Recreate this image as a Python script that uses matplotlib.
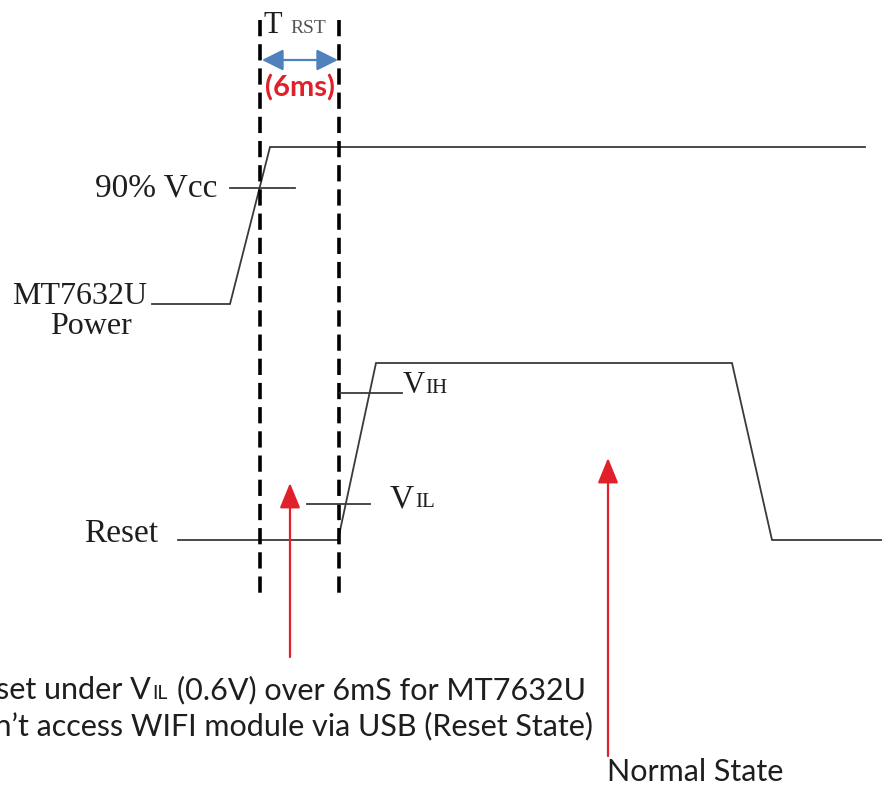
import matplotlib
matplotlib.use("Agg")
import matplotlib.pyplot as plt

# waveform vertices (horizontal position, level) in picture units
power_t = [152, 230, 270, 865]
power_v = [304, 304, 147, 147]
reset_t = [178, 338, 376, 732, 772, 882]
reset_v = [540, 540, 363, 363, 540, 540]

# T_RST window edges
trst_edges = [260, 339]
trst_span = (20, 595)

# threshold tick marks: (t_start, t_end, level)
ticks = {
    "vcc90": (230, 295, 188),
    "vih": (340, 402, 393),
    "vil": (307, 370, 504),
}

# red pointer arrows: (t, tail, tip)
pointers = [(290, 657, 483), (608, 756, 458)]

SERIF = "Liberation Serif"
SANS = "Lato"
INK = "#1e1e1e"
LINE = "#3a3a3a"
RED = "#e0202a"
BLUE = "#4f81bd"

fig = plt.figure(figsize=(8.82, 7.85), dpi=100)
ax = fig.add_axes([0, 0, 1, 1])
ax.set_xlim(0, 882)
ax.set_ylim(785, 0)
ax.axis("off")

# waveforms
ax.plot(power_t, power_v, color=LINE, lw=1.3, solid_joinstyle="miter")
ax.plot(reset_t, reset_v, color=LINE, lw=1.3, solid_joinstyle="miter")

# dashed window
for x in trst_edges:
    ax.plot([x, x], trst_span, color="black", lw=2.6, dashes=(4.5, 2.2))

# threshold ticks
for t0, t1, lv in ticks.values():
    ax.plot([t0, t1], [lv, lv], color=LINE, lw=1.3)

# T_RST arrow + label
ax.annotate("", xy=(trst_edges[1] - 1, 60), xytext=(trst_edges[0] + 2, 60),
            arrowprops=dict(arrowstyle="<|-|>,head_length=1.0,head_width=0.5",
                            color=BLUE, lw=1.6, shrinkA=0, shrinkB=0,
                            mutation_scale=13))
ax.text(264, 33, "T", fontsize=22, family=SERIF, color=INK, va="baseline")
ax.text(290, 33, "RST", fontsize=14, family=SERIF, color="#555555", va="baseline")
ax.text(300, 88, "(6ms)", fontsize=21, family=SANS, weight="bold", color=RED,
        ha="center", va="center")

# serif labels
ax.text(217, 188, "90% Vcc", fontsize=24, family=SERIF, color=INK, ha="right", va="center")
ax.text(80, 297, "MT7632U", fontsize=23, family=SERIF, color=INK, ha="center", va="center")
ax.text(91, 327, "Power", fontsize=23, family=SERIF, color=INK, ha="center", va="center")
ax.text(158, 542, "Reset", fontsize=24, family=SERIF, color=INK, ha="right", va="baseline")
ax.text(403, 393, "V", fontsize=22, family=SERIF, color=INK, va="baseline")
ax.text(425, 393, "IH", fontsize=15, family=SERIF, color=INK, va="baseline")
ax.text(390, 507, "V", fontsize=24, family=SERIF, color=INK, va="baseline")
ax.text(415, 507, "IL", fontsize=15, family=SERIF, color=INK, va="baseline")

# red pointer arrows
for t, tail, tip in pointers:
    ax.annotate("", xy=(t, tip), xytext=(t, tail),
                arrowprops=dict(arrowstyle="-|>,head_length=1.1,head_width=0.45",
                                color=RED, lw=1.6, shrinkA=0, shrinkB=0,
                                mutation_scale=14))

# explanatory text (left edge cut by the picture border, as in the source)
ax.text(151, 699, "Reset under V", fontsize=22, family=SANS, color=INK, ha="right", va="baseline")
ax.text(152, 699, "IL", fontsize=14, family=SANS, color=INK, va="baseline")
ax.text(586, 699, "(0.6V) over 6mS for MT7632U", fontsize=22, family=SANS, color=INK,
        ha="right", va="baseline")
ax.text(593, 735, "Can\u2019t access WIFI module via USB (Reset State)", fontsize=22,
        family=SANS, color=INK, ha="right", va="baseline")
ax.text(607, 781, "Normal State", fontsize=22, family=SANS, color=INK, va="baseline")

fig.savefig("out.png", dpi=100)
